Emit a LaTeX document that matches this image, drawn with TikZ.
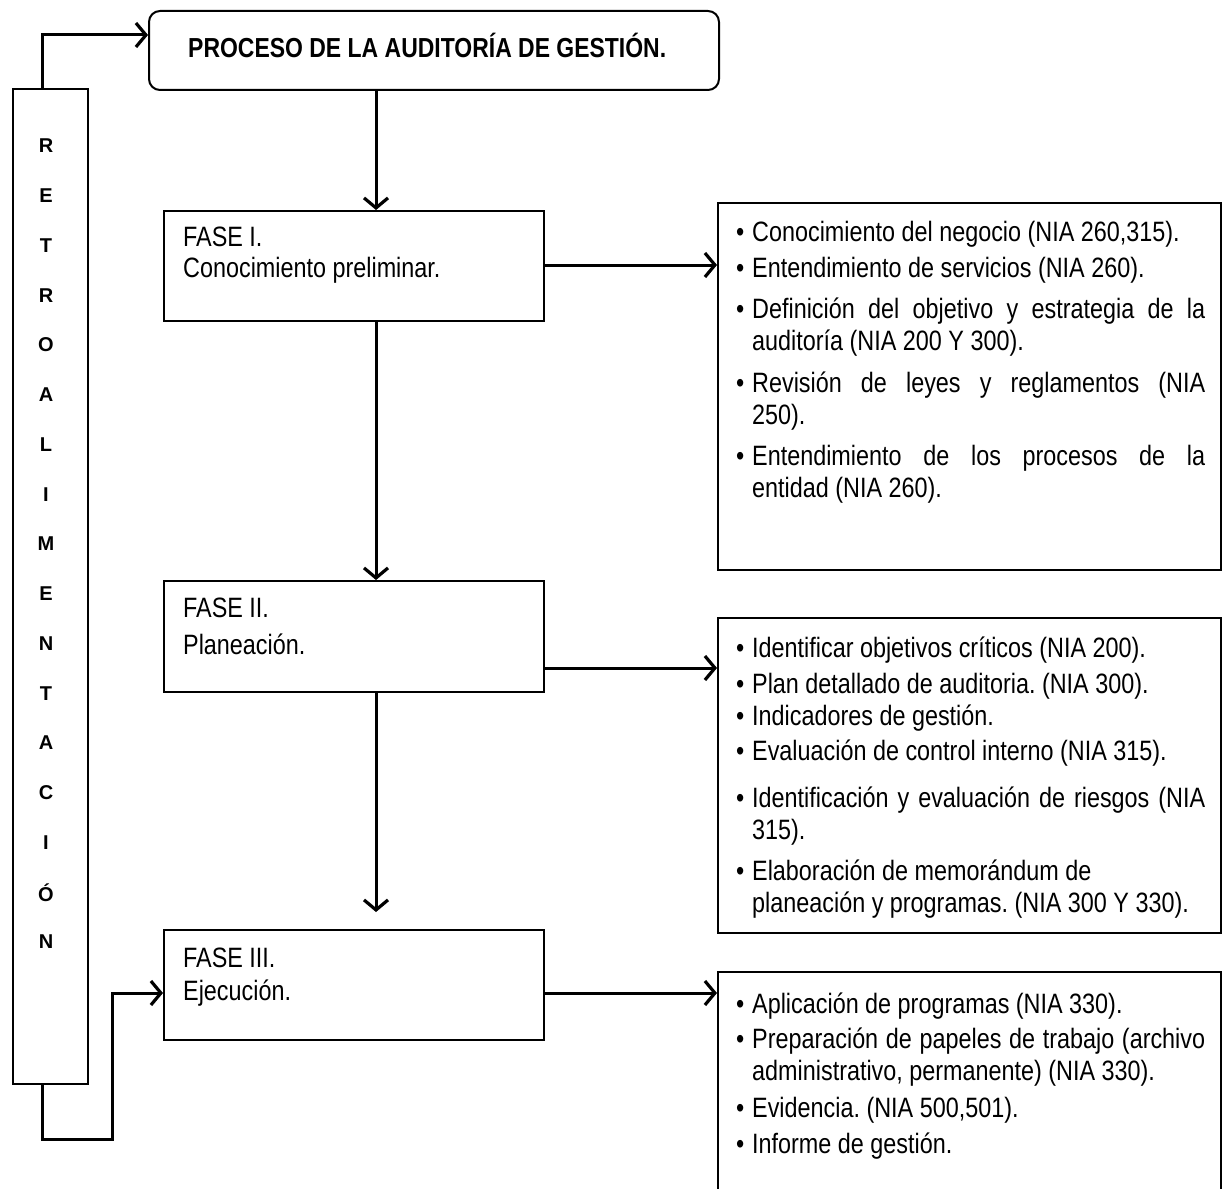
\documentclass[tikz,border=0pt]{standalone}
\usepackage{fontspec}
\setmainfont[FakeStretch=0.835]{Liberation Sans}
\newfontfamily\widefont{Liberation Sans}
\usetikzlibrary{arrows.meta}
\frenchspacing
\newcommand\myitem[1]{\noindent\llap{\textbullet\hspace{8pt}}\rule{0pt}{27pt}#1}
\tikzset{
  conn/.style={line width=3pt, line join=miter, -{Straight Barb[length=10pt,width=24pt,line width=3.2pt]}},
  boxshape/.style={draw, line width=2pt, inner sep=0pt, anchor=north west},
  itm/.style={anchor=north west, inner sep=0pt, text width=453pt, align=justify, font=\fontsize{28}{32}\selectfont},
  fasetxt/.style={anchor=north west, inner sep=0pt, align=left},
  retro/.style={font=\widefont\bfseries\fontsize{20}{22}\selectfont, inner sep=0pt},
}
\begin{document}
\frenchspacing
\begin{tikzpicture}[x=1pt,y=-1pt]
\useasboundingbox (0,0) rectangle (1222,1188);
\begin{scope}
\clip (0,0) rectangle (1222,1188);
% title
\node[boxshape, rounded corners=11pt, minimum width=570pt, minimum height=79pt] (title) at (148,10) {};
\node[anchor=west, inner sep=0pt, font=\bfseries\fontsize{27.5}{32}\selectfont] (titletext) at (188,45) {PROCESO DE LA AUDITORÍA DE GESTIÓN.};
% feedback bar
\node[boxshape, minimum width=75pt, minimum height=995pt] (bar) at (12,88) {};
\foreach \l [count=\i from 0] in {R,E,T,R,O,A,L,I,M,E,N,T,A,C,I,Ó,N}
  \node[retro] (r\i) at (46,146+49.75*\i) {\l};
% phase boxes
\node[boxshape, minimum width=380pt, minimum height=110pt] (f1) at (163,210) {};
\node[boxshape, minimum width=380pt, minimum height=111pt] (f2) at (163,580) {};
\node[boxshape, minimum width=380pt, minimum height=110pt] (f3) at (163,929) {};
\node[fasetxt, font=\fontsize{28}{31}\selectfont] (f1t) at (183,219) {\rule{0pt}{27pt}FASE I.\\Conocimiento preliminar.};
\node[fasetxt, font=\fontsize{28}{37}\selectfont] (f2t) at (183,590) {\rule{0pt}{27pt}FASE II.\\Planeación.};
\node[fasetxt, font=\fontsize{28}{33}\selectfont] (f3t) at (183,940) {\rule{0pt}{27pt}FASE III.\\Ejecución.};
% right boxes
\node[boxshape, minimum width=503pt, minimum height=367pt] (b1) at (717,202) {};
\node[boxshape, minimum width=503pt, minimum height=315pt] (b2) at (717,617) {};
\node[boxshape, minimum width=503pt, minimum height=300pt] (b3) at (717,971) {};
% box 1 items
\node[itm] (b1a) at (752,214) {\myitem{Conocimiento del negocio (NIA 260,315).}};
\node[itm] (b1b) at (752,250) {\myitem{Entendimiento de servicios (NIA 260).}};
\node[itm] (b1c) at (752,291) {\myitem{Definición del objetivo y estrategia de la\linebreak auditoría (NIA 200 Y 300).}};
\node[itm] (b1d) at (752,365) {\myitem{Revisión de leyes y reglamentos (NIA\linebreak 250).}};
\node[itm] (b1e) at (752,438) {\myitem{Entendimiento de los procesos de la\linebreak entidad (NIA 260).}};
% box 2 items
\node[itm] (b2a) at (752,630) {\myitem{Identificar objetivos críticos (NIA 200).}};
\node[itm] (b2b) at (752,666) {\myitem{Plan detallado de auditoria. (NIA 300).}};
\node[itm] (b2c) at (752,698) {\myitem{Indicadores de gestión.}};
\node[itm] (b2d) at (752,733) {\myitem{Evaluación de control interno (NIA 315).}};
\node[itm] (b2e) at (752,780) {\myitem{Identificación y evaluación de riesgos (NIA\linebreak 315).}};
\node[itm] (b2f) at (752,853) {\myitem{Elaboración de memorándum de\newline planeación y programas. (NIA 300 Y 330).}};
% box 3 items
\node[itm] (b3a) at (752,986) {\myitem{Aplicación de programas (NIA 330).}};
\node[itm] (b3b) at (752,1021) {\myitem{Preparación de papeles de trabajo (archivo\linebreak administrativo, permanente) (NIA 330).}};
\node[itm] (b3c) at (752,1090) {\myitem{Evidencia. (NIA 500,501).}};
\node[itm] (b3d) at (752,1126) {\myitem{Informe de gestión.}};
% connectors
\coordinate (spine) at (376,0);
\draw[conn] (title.south -| spine) -- (f1.north -| spine);
\draw[conn] (f1.south -| spine) -- (f2.north -| spine);
\draw[conn, shorten >=17pt] (f2.south -| spine) -- (f3.north -| spine);
\coordinate (h1) at (0,265);
\coordinate (h2) at (0,668);
\coordinate (h3) at (0,993);
\draw[conn] (f1.east |- h1) -- (b1.west |- h1);
\draw[conn] (f2.east |- h2) -- (b2.west |- h2);
\draw[conn] (f3.east |- h3) -- (b3.west |- h3);
\coordinate (fbtop) at (42,35);
\draw[conn] (bar.north -| fbtop) -- (fbtop) -- (title.west |- fbtop);
\coordinate (fbb1) at (42,1139);
\coordinate (fbb2) at (112,1139);
\coordinate (fbb3) at (112,993);
\draw[conn] (bar.south -| fbb1) -- (fbb1) -- (fbb2) -- (fbb3) -- (f3.west |- fbb3);
\end{scope}
\end{tikzpicture}
\end{document}
